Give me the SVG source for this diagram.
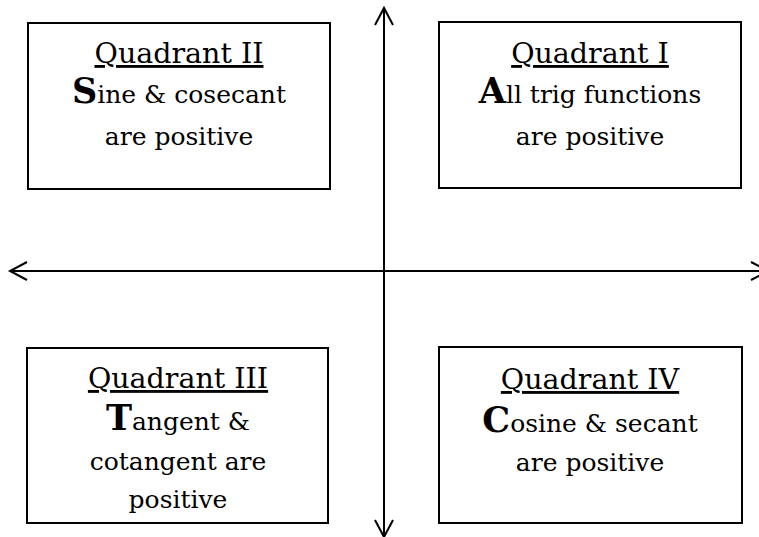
<svg xmlns="http://www.w3.org/2000/svg" width="759" height="537" viewBox="0 0 759 537">
<defs>
<style>
.box{fill:#fff;stroke:#000;stroke-width:2}
.axis{stroke:#000;stroke-width:2;fill:none;marker-start:url(#ah);marker-end:url(#ah)}
text{font-family:"DejaVu Serif","Liberation Serif",serif;fill:#000;text-anchor:middle}
.h{font-size:28.5px;text-decoration:underline}
.b{font-size:25px}
.cap{font-size:35px;font-weight:bold}
</style>
<marker id="ah" markerUnits="userSpaceOnUse" markerWidth="22" markerHeight="22" viewBox="0 0 22 22" refX="19" refY="11" orient="auto-start-reverse" overflow="visible">
<path d="M2,2 L19,11 L2,20" fill="none" stroke="#000" stroke-width="2"/>
</marker>
</defs>
<rect width="759" height="537" fill="#fff"/>
<g id="connectors">
<line class="axis" x1="384" y1="537" x2="384" y2="8"/>
<line class="axis" x1="10" y1="271" x2="768" y2="271"/>
</g>
<g id="q2">
<rect class="box" x="28" y="23" width="302" height="166"/>
<text class="h" x="179" y="63">Quadrant II</text>
<text class="b" x="179" y="103"><tspan class="cap">S</tspan>ine &amp; cosecant</text>
<text class="b" x="179" y="145">are positive</text>
</g>
<g id="q1">
<rect class="box" x="439" y="22" width="302" height="166"/>
<text class="h" x="590" y="63">Quadrant I</text>
<text class="b" x="590" y="103"><tspan class="cap">A</tspan>ll trig functions</text>
<text class="b" x="590" y="145">are positive</text>
</g>
<g id="q3">
<rect class="box" x="27" y="348" width="301" height="175"/>
<text class="h" x="178" y="388">Quadrant III</text>
<text class="b" x="178" y="430"><tspan class="cap">T</tspan>angent &amp;</text>
<text class="b" x="178" y="470">cotangent are</text>
<text class="b" x="178" y="508">positive</text>
</g>
<g id="q4">
<rect class="box" x="439" y="347" width="303" height="176"/>
<text class="h" x="590" y="389">Quadrant IV</text>
<text class="b" x="590" y="432"><tspan class="cap">C</tspan>osine &amp; secant</text>
<text class="b" x="590" y="471">are positive</text>
</g>
</svg>
